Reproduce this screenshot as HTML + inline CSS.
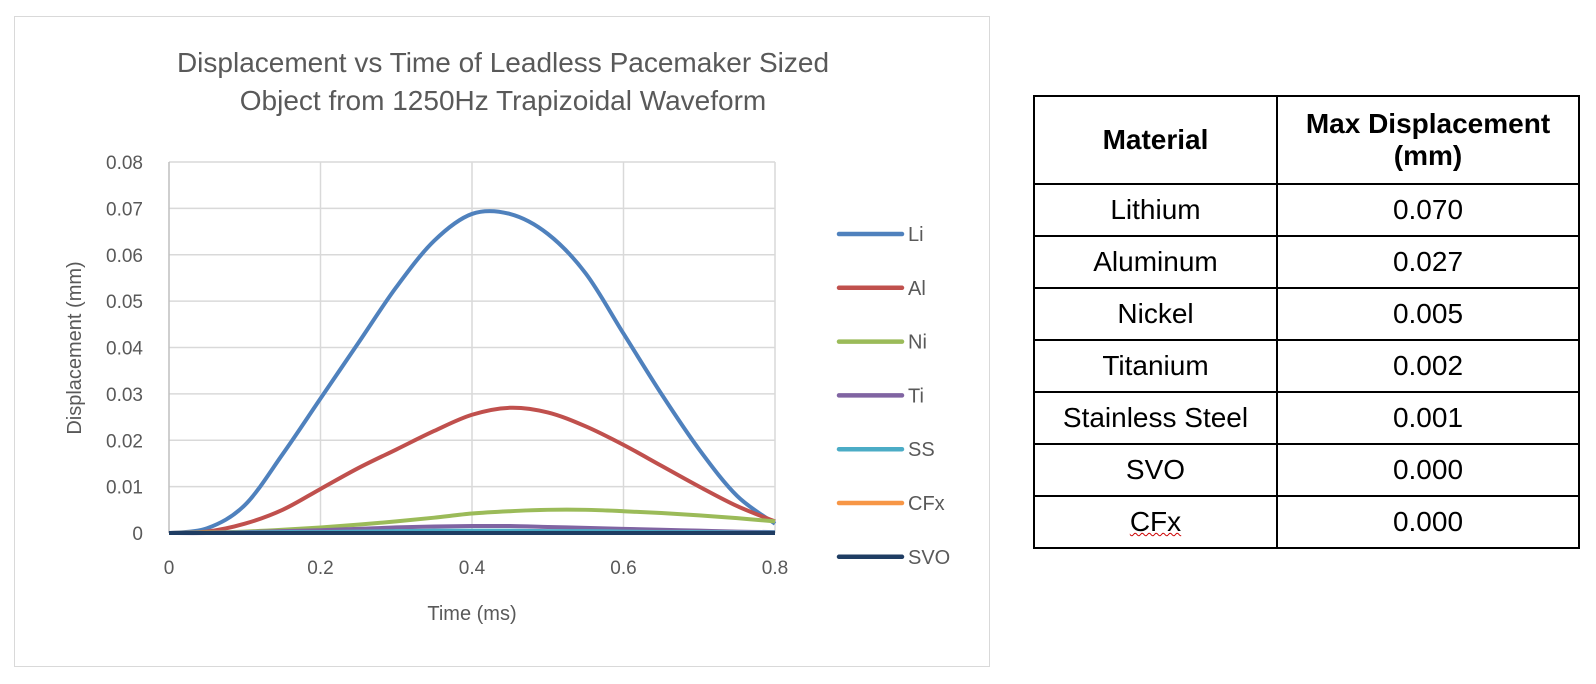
<!DOCTYPE html>
<html><head><meta charset="utf-8"><style>
body{margin:0;background:#fff;width:1596px;height:684px;overflow:hidden;font-family:"Liberation Sans",sans-serif;position:relative}
#chartbox{position:absolute;left:14px;top:16px;width:976px;height:651px;border:1.5px solid #d9d9d9;box-sizing:border-box}
table{position:absolute;left:1033px;top:95px;border-collapse:collapse;font-size:28px;color:#000}
td,th{border:2px solid #000;text-align:center;padding:0}
th{font-weight:bold;height:86px;line-height:32px}
td{height:50px}
</style></head><body>
<div id="chartbox"></div>
<svg id="chart" width="1000" height="684" style="position:absolute;left:0;top:0"></svg>
<table>
<tr><th style="width:241px">Material</th><th style="width:300px">Max Displacement<br>(mm)</th></tr>
<tr><td>Lithium</td><td>0.070</td></tr>
<tr><td>Aluminum</td><td>0.027</td></tr>
<tr><td>Nickel</td><td>0.005</td></tr>
<tr><td>Titanium</td><td>0.002</td></tr>
<tr><td>Stainless Steel</td><td>0.001</td></tr>
<tr><td>SVO</td><td>0.000</td></tr>
<tr><td><span style="text-decoration:underline wavy #c00;text-decoration-thickness:1px">CFx</span></td><td>0.000</td></tr>
</table>
<script>
const seriesNames=["Li","Al","Ni","Ti","SS","CFx","SVO"];
const seriesColors=["#4f81bd","#c0504d","#9bbb59","#8064a2","#4bacc6","#f79646","#1f3d63"];
const times=[0,0.05,0.1,0.15,0.2,0.25,0.3,0.35,0.4,0.45,0.5,0.55,0.6,0.65,0.7,0.75,0.8];
const li=[0,0.001,0.006,0.017,0.029,0.041,0.053,0.063,0.0688,0.0688,0.0645,0.056,0.043,0.030,0.018,0.008,0.002];
const al=[0,0.0003,0.002,0.005,0.0095,0.014,0.018,0.022,0.0255,0.027,0.026,0.023,0.019,0.0145,0.010,0.0058,0.0025];
const ni=[0,0.0001,0.0003,0.0007,0.0012,0.0018,0.0025,0.0033,0.0042,0.0047,0.005,0.005,0.0047,0.0043,0.0038,0.0032,0.0025];
const ti=[0,0,0.0002,0.0004,0.0006,0.0009,0.0012,0.0014,0.0015,0.0015,0.0013,0.0011,0.0009,0.0007,0.0005,0.0003,0.0002];
const ss=[0,0,0.0001,0.0002,0.0002,0.0003,0.0004,0.0005,0.0005,0.0005,0.0004,0.0004,0.0003,0.0002,0.0002,0.0001,0.0001];
const cfx=[0,0,0,0,0,0,0,0,0,0,0,0,0,0,0,0,0];
const svo=[0,0,0,0,0,0,0,0,0,0,0,0,0,0,0,0,0];
const yTicks=[0,0.01,0.02,0.03,0.04,0.05,0.06,0.07,0.08];
const yTickLabels=["0","0.01","0.02","0.03","0.04","0.05","0.06","0.07","0.08"];
const xTicks=[0,0.2,0.4,0.6,0.8];
const xTickLabels=["0","0.2","0.4","0.6","0.8"];
const allSeries=[li,al,ni,ti,ss,cfx,svo];

const NS="http://www.w3.org/2000/svg",svg=document.getElementById('chart');
const X0=169,X1=775,Y0=533,Y1=162;
const xs=v=>X0+(v-0)/0.8*(X1-X0);
const ys=v=>Y0-(v/0.08)*(Y0-Y1);
function mk(t,a,txt){const e=document.createElementNS(NS,t);for(const k in a)e.setAttribute(k,a[k]);if(txt!=null)e.textContent=txt;svg.appendChild(e);return e;}
yTicks.forEach((v,i)=>{
 const g=mk('line',{x1:X0,x2:X1,y1:ys(v),y2:ys(v),stroke:i==0?'#bfbfbf':'#d9d9d9','stroke-width':1.5});
 
 
 const t=mk('text',{x:143,y:ys(v)+7,'text-anchor':'end','font-size':19,fill:'#595959'},yTickLabels[i]);
 
 
});
xTicks.forEach((v,i)=>{
 const g=mk('line',{x1:xs(v),x2:xs(v),y1:Y1,y2:Y0,stroke:i==0?'#bfbfbf':'#d9d9d9','stroke-width':1.5});
 
 
 const t=mk('text',{x:xs(v),y:574,'text-anchor':'middle','font-size':19,fill:'#595959'},xTickLabels[i]);
 
 
});
function pathFor(vals){
 const p=times.map((t,i)=>[xs(t),ys(vals[i])]);
 let d='M'+p[0][0]+','+p[0][1];
 for(let i=0;i<p.length-1;i++){
  const a=p[Math.max(0,i-1)],b=p[i],c=p[i+1],e=p[Math.min(p.length-1,i+2)];
  d+=` C${b[0]+(c[0]-a[0])/6},${b[1]+(c[1]-a[1])/6} ${c[0]-(e[0]-b[0])/6},${c[1]-(e[1]-b[1])/6} ${c[0]},${c[1]}`;
 }
 return d;
}
for(let s=0;s<allSeries.length;s++){
 const e=mk('path',{d:pathFor(allSeries[s]),fill:'none',stroke:seriesColors[s],'stroke-width':4,'stroke-linejoin':'round'});
 
 
}
seriesNames.forEach((n,i)=>{
 const y=234+i*53.8;
 const l=mk('line',{x1:839,x2:902,y1:y,y2:y,stroke:seriesColors[i],'stroke-width':4.5,'stroke-linecap':'round'});
 
 
 const t=mk('text',{x:908,y:y+7,'font-size':20,fill:'#595959'},n);
 
 
});
const t1=mk('text',{x:503,y:72,'text-anchor':'middle','font-size':28,fill:'#595959'},'Displacement vs Time of Leadless Pacemaker Sized');


const t2=mk('text',{x:503,y:110,'text-anchor':'middle','font-size':28,fill:'#595959'},'Object from 1250Hz Trapizoidal Waveform');


const xt=mk('text',{x:472,y:620,'text-anchor':'middle','font-size':20,fill:'#595959'},'Time (ms)');


const yt=mk('text',{x:0,y:0,'text-anchor':'middle','font-size':20,fill:'#595959',transform:'translate(81,348) rotate(-90)'},'Displacement (mm)');


</script>
</body></html>
